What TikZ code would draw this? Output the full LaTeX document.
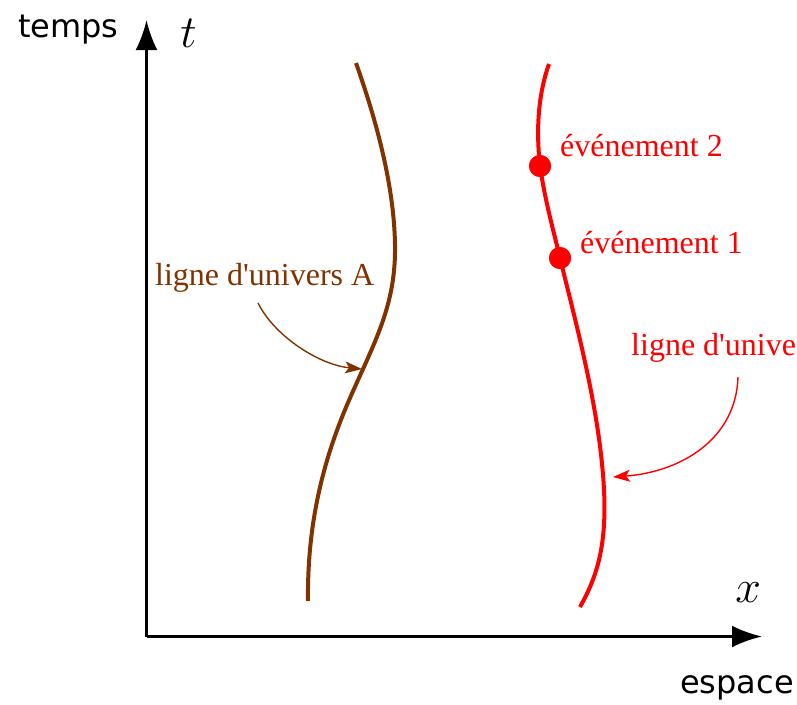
\documentclass[tikz,border=0pt]{standalone}
\usepackage{fontspec}
\setmainfont{Liberation Serif}
\newfontfamily\labelsans{DejaVu Sans}
\usetikzlibrary{arrows.meta}
\definecolor{brownA}{HTML}{803300}
\begin{document}
\begin{tikzpicture}[x=1pt,y=-1pt,
  axis/.style={line width=3pt,-{Latex[length=30pt,width=22pt]}},
  wlA/.style={line width=4pt,brownA},
  wlB/.style={line width=4pt,red},
  pointer/.style={line width=1.4pt,-{Stealth[length=17pt,width=12pt,inset=4pt]}},
  serif/.style={font=\fontsize{32}{38}\selectfont, anchor=base west, inner sep=0pt},
  sans/.style={font=\labelsans\fontsize{32}{38}\selectfont, anchor=base west, inner sep=0pt},
  mathlbl/.style={font=\Huge, scale=1.85, anchor=base west, inner sep=0pt},
  event/.style={circle,fill=red,inner sep=0pt,minimum size=22pt}]
\useasboundingbox (0,0) rectangle (797,704);
\coordinate (Ov) at (146.5,637);
\coordinate (Oh) at (146.5,636.5);
\coordinate (ttip) at (146.5,20);
\coordinate (xtip) at (762,636.5);
\draw[axis] (Ov) -- (ttip);
\draw[axis] (Oh) -- (xtip);
\node[mathlbl] (tlab) at (180,47) {$t$};
\node[mathlbl] (xlab) at (735,602) {$x$};
\node[sans] (temps) at (18,37) {temps};
\node[sans] (espace) at (680,693) {espace};
% world lines
\coordinate (A0) at (308,601);
\coordinate (A1) at (350,398);
\coordinate (A2) at (395,245);
\coordinate (A3) at (356,63);
\draw[wlA] (A0) .. controls (307,520) and (325,455) .. (A1)
                .. controls (375,341) and (396,305) .. (A2)
                .. controls (394,175) and (369,100) .. (A3);
\coordinate (B0) at (549,64);
\coordinate (B3) at (604,490);
\coordinate (B4) at (580,607);
\node[event] (e2) at (540,166) {};
\node[event] (e1) at (560,258) {};
\draw[wlB] (B0) .. controls (538,95) and (536,130) .. (e2.center)
                .. controls (545,200) and (552,225) .. (e1.center)
                .. controls (575,320) and (600,410) .. (B3)
                .. controls (607,550) and (595,580) .. (B4);
\node[event] at (e2) {};
\node[event] at (e1) {};
% labels
\node[serif,text=red] (l2) at (560,156) {événement 2};
\node[serif,text=red] (l1) at (580,253) {événement 1};
\node[serif,text=brownA] (lA) at (155,285) {ligne d\textquotesingle univers A};
\node[serif,text=red] (lB) at (631,355) {ligne d\textquotesingle unive};
% pointers
\coordinate (aAs) at (258,303);
\coordinate (aAe) at (362,369);
\draw[pointer,brownA] (aAs) .. controls (275,337) and (320,365) .. (aAe);
\coordinate (aBs) at (738,377);
\coordinate (aBe) at (613,477);
\draw[pointer,red] (aBs) .. controls (736,440) and (680,472) .. (aBe);
\end{tikzpicture}
\end{document}
